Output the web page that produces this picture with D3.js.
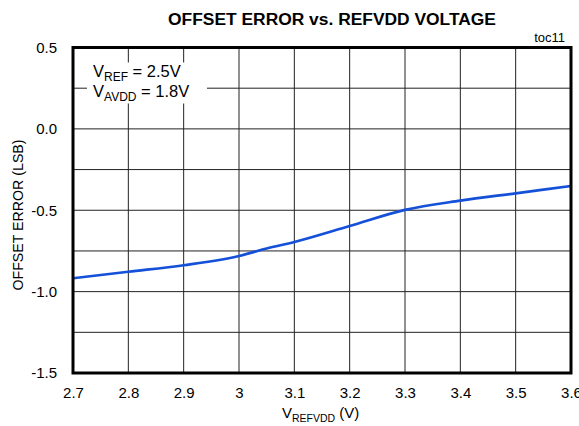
<!DOCTYPE html>
<html>
<head>
<meta charset="utf-8">
<script src="https://cdn.jsdelivr.net/npm/d3@7"></script>
<style>
  body { margin: 0; background: #fff; }
  text { font-family: "Liberation Sans", Arial, sans-serif; }
</style>
</head>
<body>
<div id="chart"></div>
<script>
// data
const voltages = [2.7, 2.8, 2.9, 3.0, 3.05, 3.1, 3.2, 3.3, 3.4, 3.5, 3.6];
const offsetErr = [-0.918, -0.878, -0.838, -0.781, -0.735, -0.695, -0.597, -0.498, -0.441, -0.396, -0.351];
const xTicks = [2.7, 2.8, 2.9, 3.0, 3.1, 3.2, 3.3, 3.4, 3.5, 3.6];
const yTicks = [-1.5, -1.0, -0.5, 0.0, 0.5];
const yGrid = [-1.5, -1.25, -1.0, -0.75, -0.5, -0.25, 0.0, 0.25, 0.5];

const W = 579, H = 426;
const margin = {top: 47.5, right: 8, bottom: 53, left: 73};
const iw = W - margin.left - margin.right;
const ih = H - margin.top - margin.bottom;

const svg = d3.select("#chart").append("svg")
    .attr("width", W).attr("height", H);

const x = d3.scaleLinear().domain([2.7, 3.6]).range([0, iw]);
const y = d3.scaleLinear().domain([-1.5, 0.5]).range([ih, 0]);

const g = svg.append("g").attr("transform", `translate(${margin.left},${margin.top})`);

// grid
g.append("g").selectAll("line").data(xTicks).join("line")
    .attr("x1", d => x(d)).attr("x2", d => x(d))
    .attr("y1", 0).attr("y2", ih)
    .attr("stroke", "#222").attr("stroke-width", 1);
g.append("g").selectAll("line").data(yGrid).join("line")
    .attr("x1", 0).attr("x2", iw)
    .attr("y1", d => y(d)).attr("y2", d => y(d))
    .attr("stroke", "#222").attr("stroke-width", 1);

// annotation box hides grid behind
g.append("rect").attr("x", 14).attr("y", 15).attr("width", 120).attr("height", 41).attr("fill", "#fff");
const ann = g.append("text").attr("x", 20).attr("y", 29.5).attr("font-size", 16.5).attr("fill", "#000");
ann.append("tspan").text("V");
ann.append("tspan").attr("font-size", 12).attr("dy", 4).text("REF");
ann.append("tspan").attr("dy", -4).text(" = 2.5V");
const ann2 = g.append("text").attr("x", 20).attr("y", 49.5).attr("font-size", 16.5).attr("fill", "#000");
ann2.append("tspan").text("V");
ann2.append("tspan").attr("font-size", 12).attr("dy", 4).text("AVDD");
ann2.append("tspan").attr("dy", -4).text(" = 1.8V");

// curve
const line = d3.line().x((d, i) => x(voltages[i])).y(d => y(d)).curve(d3.curveMonotoneX);
g.append("path").datum(offsetErr)
    .attr("d", line)
    .attr("fill", "none").attr("stroke", "#1550d8").attr("stroke-width", 2.7);

// frame
g.append("rect").attr("x", 0).attr("y", 0).attr("width", iw).attr("height", ih)
    .attr("fill", "none").attr("stroke", "#000").attr("stroke-width", 3);

// axes labels (plain hyphen for minus, as in the reference)
const fmt = d => d3.format(".1f")(d).replace("\u2212", "-");
const xAxis = d3.axisBottom(x).tickValues(xTicks).tickSize(0).tickPadding(14)
    .tickFormat(d => d === 3 ? "3" : fmt(d));
g.append("g").attr("transform", `translate(0,${ih})`).call(xAxis)
    .call(s => s.select(".domain").remove())
    .selectAll("text").attr("font-size", 15).attr("fill", "#000")
    .attr("font-family", "Liberation Sans, Arial, sans-serif");

const yAxis = d3.axisLeft(y).tickValues(yTicks).tickSize(0).tickPadding(16)
    .tickFormat(fmt);
g.append("g").call(yAxis)
    .call(s => s.select(".domain").remove())
    .selectAll("text").attr("font-size", 15).attr("fill", "#000")
    .attr("font-family", "Liberation Sans, Arial, sans-serif");

// titles
svg.append("text").attr("x", 332).attr("y", 25).attr("text-anchor", "middle")
    .attr("font-size", 17.4).attr("font-weight", "bold")
    .text("OFFSET ERROR vs. REFVDD VOLTAGE");
svg.append("text").attr("x", 565).attr("y", 42).attr("text-anchor", "end")
    .attr("font-size", 13).text("toc11");

svg.append("text")
    .attr("transform", `translate(23,215) rotate(-90)`)
    .attr("text-anchor", "middle").attr("font-size", 14.2)
    .text("OFFSET ERROR (LSB)");

const xt = svg.append("text").attr("x", 282).attr("y", 418).attr("font-size", 15);
xt.append("tspan").text("V");
xt.append("tspan").attr("font-size", 10.5).attr("dy", 4).text("REFVDD");
xt.append("tspan").attr("dy", -4).text(" (V)");
</script>
</body>
</html>
